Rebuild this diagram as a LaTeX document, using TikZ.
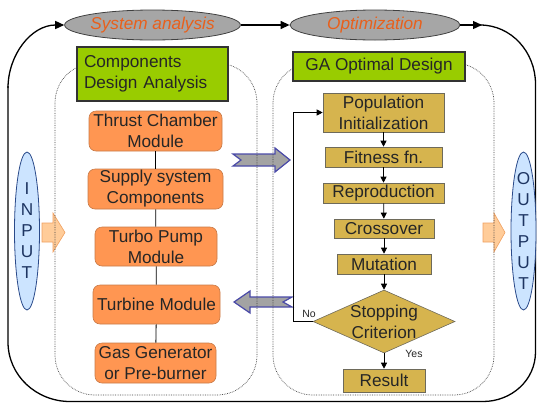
\documentclass[tikz,border=0pt]{standalone}
\usepackage{fontspec}
\setmainfont{Liberation Sans}
\usetikzlibrary{shapes.geometric,arrows.meta}
\definecolor{ellgray}{HTML}{A6A6A6}
\definecolor{elltext}{HTML}{E8601C}
\definecolor{grfill}{HTML}{99CC00}
\definecolor{orfill}{HTML}{FF9652}
\definecolor{orborder}{HTML}{C87A48}
\definecolor{tanfill}{HTML}{D6B44E}
\definecolor{tanborder}{HTML}{6E6A5A}
\definecolor{bagray}{HTML}{A3A3A3}
\definecolor{baborder}{HTML}{4A4AA8}
\definecolor{ltblue}{HTML}{CCE4FF}
\definecolor{dkblue}{HTML}{2A4A8A}
\definecolor{ltorange}{HTML}{FFCC99}
\definecolor{orline}{HTML}{F0A060}
\definecolor{txt}{HTML}{262626}
\begin{document}
\begin{tikzpicture}[x=1pt,y=-1pt,
  every node/.style={font=\fontsize{17.2}{21}\selectfont, inner sep=0pt, text=txt},
  ellbox/.style={ellipse, draw=black!75, line width=0.8pt, fill=ellgray, minimum width=170pt, minimum height=30pt, text=elltext, font=\fontsize{17.2}{21}\selectfont\itshape},
  greenbox/.style={draw=black!80, line width=1.2pt, fill=grfill},
  orbox/.style={draw=orborder, line width=0.6pt, fill=orfill, rounded corners=7pt, align=center},
  tanbox/.style={draw=tanborder, line width=0.6pt, fill=tanfill, align=center},
  dotbox/.style={densely dotted, line width=0.7pt, black!75, rounded corners=40pt},
  frame/.style={line width=1.3pt, black},
  flow/.style={-{Triangle[length=6pt,width=6pt]}, line width=0.8pt},
  looptip/.style={-{Triangle[length=9pt,width=8pt]}},
  blockarrow/.style={draw=baborder, line width=1.2pt, fill=bagray},
  iobox/.style={ellipse, draw=dkblue, line width=0.8pt, fill=ltblue, minimum width=25pt, minimum height=158pt},
  ioarrow/.style={draw=orline, line width=0.6pt, fill=ltorange},
  small/.style={font=\fontsize{10.5}{12}\selectfont}
]
\useasboundingbox (0,0) rectangle (537,405);

% ellipses
\node[ellbox] (sa) at (152.5,25) {System analysis};
\node[ellbox] (op) at (375,25) {Optimization};

% outer loop
\draw[frame] (op.east) -- (480,25) to[out=0,in=90] (535.5,84) -- (535.5,352)
  to[out=-90,in=0] (483,401.5) -- (70,401.5) to[out=180,in=-90] (8,342) -- (8,86);
\draw[frame,looptip] (8,88) to[out=90,in=180] (sa.west);
\draw[frame,looptip] (op.east) -- (482,25);
\draw[frame,looptip] (sa.east) -- (op.west);

% block arrows (under dotted lines)
\draw[blockarrow] (233,154) -- (275,154) -- (275,148) -- (290,160) -- (275,172) -- (275,166) -- (233,166) -- (241,160) -- cycle;
\draw[blockarrow] (292,297) -- (250,297) -- (250,291) -- (234,302) -- (250,313) -- (250,307) -- (292,307) -- (283,302) -- cycle;
\draw[ioarrow] (42,223) -- (53,223) -- (53,213) -- (65,232.5) -- (53,252) -- (53,242) -- (42,242) -- cycle;
\draw[ioarrow] (483,223) -- (494,223) -- (494,213) -- (505,232.5) -- (494,252) -- (494,242) -- (483,242) -- cycle;

% dotted boxes
\draw[dotbox] (55,63) rectangle (257,395);
\draw[dotbox] (273,63) rectangle (494,395);

% green headers
\node[greenbox, minimum width=151pt, minimum height=54pt, text width=137pt, align=left] (cda) at (152.5,74) {Components\\Design Analysis};
\node[greenbox, minimum width=172pt, minimum height=29pt] (gad) at (379,66.5) {GA Optimal Design};

% left column
\node[orbox, minimum width=133pt, minimum height=40pt] (tc) at (155.5,131) {Thrust Chamber\\Module};
\node[orbox, minimum width=135pt, minimum height=40pt] (ss) at (155.5,189) {Supply system\\Components};
\node[orbox, minimum width=122pt, minimum height=39pt] (tp) at (156,246.5) {Turbo Pump\\Module};
\node[orbox, minimum width=127pt, minimum height=39pt] (tm) at (156.5,304.5) {Turbine Module};
\node[orbox, minimum width=121pt, minimum height=40pt] (gg) at (155.5,363) {Gas Generator\\or Pre-burner};
\draw[line width=0.8pt] (tc) -- (ss);
\draw[line width=0.8pt] (ss) -- (tp);
\draw[line width=0.8pt] (tp) -- (tm);
\draw[line width=0.8pt] (tm) -- (gg);

% right column
\node[tanbox, minimum width=121pt, minimum height=39pt] (pi) at (383.5,112.5) {Population\\Initialization};
\node[tanbox, minimum width=117pt, minimum height=20pt] (ff) at (383.5,157) {Fitness fn.};
\node[tanbox, minimum width=121pt, minimum height=20pt] (rp) at (383.5,193) {Reproduction};
\node[tanbox, minimum width=100pt, minimum height=19pt] (co) at (384,228.5) {Crossover};
\node[tanbox, minimum width=94pt, minimum height=20pt] (mu) at (384,264) {Mutation};
\node[diamond, draw=tanborder, line width=0.6pt, fill=tanfill, minimum width=142pt, minimum height=63pt] (st) at (384,321.5) {};
\node[align=center] (stt) at (st.center) {Stopping\\Criterion};
\node[tanbox, minimum width=82pt, minimum height=23pt] (rs) at (384,380.5) {Result};
\draw[flow] (pi) -- (ff);
\draw[flow] (ff) -- (rp);
\draw[flow] (rp) -- (co);
\draw[flow] (co) -- (mu);
\draw[flow] (mu) -- (st);
\draw[flow] (st) -- (rs);
\draw[flow] (st.west) -- ++(-19,0) |- (pi.west);
\node[small] (no) at (309,314) {No};
\node[small] (yes) at (414,354) {Yes};

% INPUT / OUTPUT
\node[iobox] (in) at (27,231) {};
\node[align=center, text=dkblue!70!black] (intext) at (in.center) {I\\N\\P\\U\\T};
\node[iobox] (out) at (523.5,231) {};
\node[align=center, text=dkblue!70!black] (outtext) at (out.center) {O\\U\\T\\P\\U\\T};
\end{tikzpicture}
\end{document}
